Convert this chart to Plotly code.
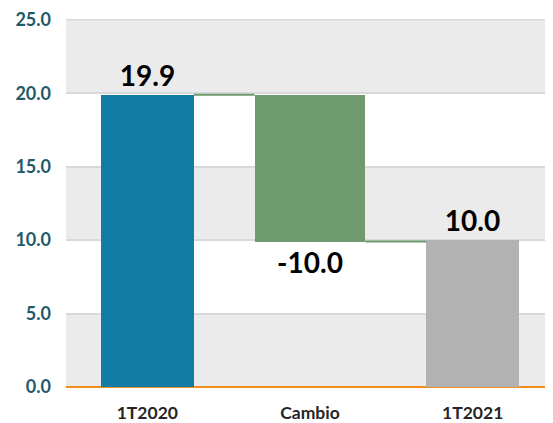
import plotly.graph_objects as go

categories = ["1T2020", "Cambio", "1T2021"]
values = [19.9, -10.0, 10.0]
kinds = ["absolute", "relative", "absolute"]
bar_colors = ["#127CA4", "#6E9A6E", "#B2B2B2"]
bar_widths = [0.57, 0.68, 0.57]
y_ticks = [0, 5, 10, 15, 20, 25]
y_tick_labels = ["0.0", "5.0", "10.0", "15.0", "20.0", "25.0"]

# compute bases / levels
bases, heights, ends = [], [], []
level = 0.0
for v, k in zip(values, kinds):
    if k == "absolute":
        bases.append(0.0)
        heights.append(v)
        level = v
    else:
        bases.append(level)
        heights.append(v)
        level = level + v
    ends.append(level)

texts = [f"{v:.1f}" for v in values]

fig = go.Figure()
fig.add_trace(go.Bar(
    x=categories, y=heights, base=bases, width=bar_widths,
    marker=dict(color=bar_colors, line=dict(width=0)),
    text=texts, textposition="outside", cliponaxis=False,
    textfont=dict(family="Lato", size=28, color="#000000", weight="bold"),
    outsidetextfont=dict(family="Lato", size=28, color="#000000", weight="bold"),
    hoverinfo="skip",
))

shapes = []
# alternating bands
for lo in range(0, 25, 10):
    shapes.append(dict(type="rect", xref="paper", yref="y", x0=0, x1=1,
                       y0=lo, y1=lo + 5, fillcolor="#EBEBEB", line=dict(width=0),
                       layer="below"))
# top border gridline
shapes.append(dict(type="line", xref="paper", yref="y", x0=0, x1=1,
                   y0=y_ticks[-1], y1=y_ticks[-1], line=dict(color="#D9D9D9", width=1.5),
                   layer="below"))
# connectors
for i in range(len(categories) - 1):
    shapes.append(dict(type="line", xref="x", yref="y",
                       x0=i + bar_widths[i] / 2, x1=i + 1 - bar_widths[i + 1] / 2,
                       y0=ends[i], y1=ends[i], line=dict(color="#6E9A6E", width=2),
                       layer="above"))

fig.update_layout(
    width=553, height=423,
    margin=dict(l=58, r=7, t=11, b=44, autoexpand=False),
    paper_bgcolor="white", plot_bgcolor="white",
    showlegend=False, shapes=shapes, bargap=0,
    font=dict(family="Lato"),
)
fig.update_xaxes(
    range=[-0.5, 2.5], showgrid=False, showline=False, ticks="",
    automargin=False, ticklabelstandoff=13,
    tickfont=dict(family="Lato", size=17.5, color="#262626", weight="bold"),
)
fig.update_yaxes(
    range=[0, 25.05], tickvals=y_ticks, ticktext=y_tick_labels,
    showgrid=True, gridcolor="#D9D9D9", gridwidth=1.5,
    zeroline=True, zerolinecolor="#F28C1A", zerolinewidth=2,
    showline=False, ticks="", ticklabelstandoff=14, automargin=False,
    ticklabeloverflow="allow",
    tickfont=dict(family="Lato", size=18, color="#1F5A6A", weight="bold"),
)
fig.write_html("out.html")
